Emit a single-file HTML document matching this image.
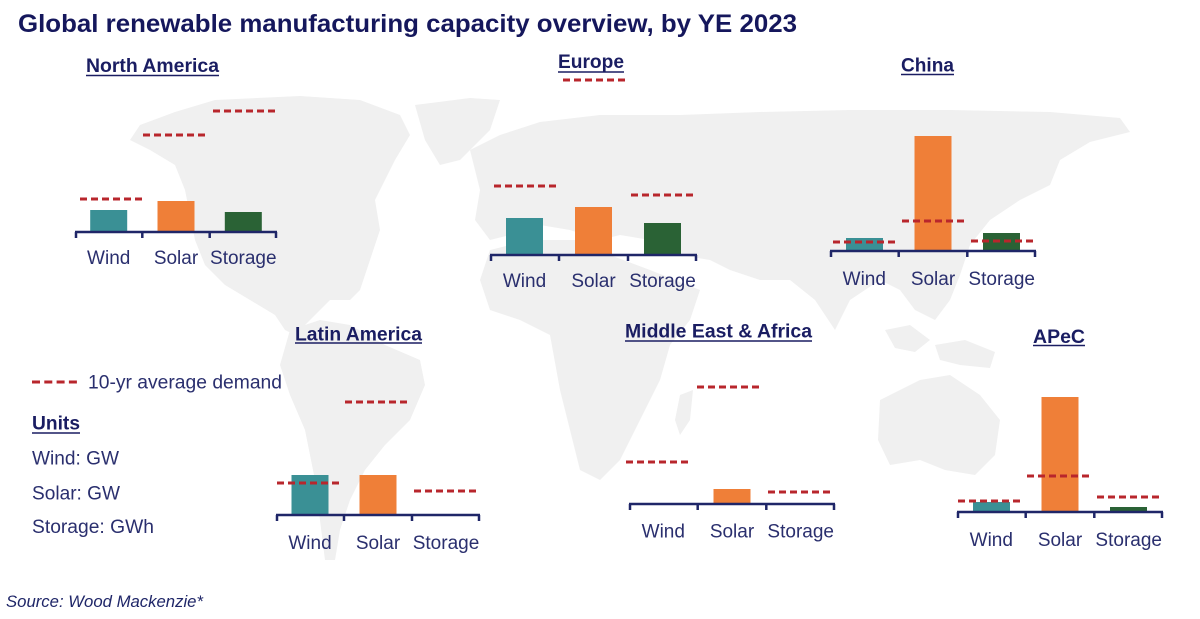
<!DOCTYPE html>
<html>
<head>
<meta charset="utf-8">
<style>
  html, body { margin:0; padding:0; background:#ffffff; }
  svg { display:block; }
  text { font-family: "Liberation Sans", Arial, sans-serif; }
</style>
</head>
<body>
<svg width="1200" height="619" viewBox="0 0 1200 619" xmlns="http://www.w3.org/2000/svg">
  <rect x="0" y="0" width="1200" height="619" fill="#ffffff"/>

  <!-- faint world map -->
  <g fill="#f0f0f0">
    <polygon points="140,125 175,112 215,100 300,96 360,100 400,115 410,135 395,160 385,180 375,200 380,230 370,260 360,290 350,300 330,300 310,320 295,335 285,330 275,315 250,300 225,285 205,265 195,240 190,215 185,190 175,165 150,150 130,140"/>
    <polygon points="415,105 470,98 500,100 490,130 460,160 440,165 425,140"/>
    <polygon points="290,330 320,320 350,325 385,345 420,360 425,385 410,420 385,445 365,470 350,500 340,530 335,560 325,560 320,520 315,480 305,430 290,395 280,365"/>
    <polygon points="470,150 500,135 540,122 600,115 680,115 760,112 850,110 950,110 1050,112 1120,118 1130,132 1090,142 1060,160 1050,185 1020,200 990,220 970,245 960,275 950,300 935,320 915,310 900,290 880,280 850,300 835,330 815,300 790,280 760,280 730,270 710,260 680,255 650,240 620,235 600,240 570,230 540,225 510,235 490,240 475,220 480,190"/>
    <polygon points="490,250 530,240 580,240 610,255 650,270 700,290 690,320 670,345 660,380 640,420 620,460 600,480 580,470 570,430 560,390 550,335 520,320 490,310 480,280"/>
    <polygon points="680,395 693,390 690,420 680,435 675,420"/>
    <polygon points="880,400 920,380 950,375 980,395 1000,420 995,455 975,475 945,470 920,460 890,465 878,440"/>
    <polygon points="885,330 910,325 930,340 915,352 895,348"/>
    <polygon points="935,345 965,340 995,352 990,368 960,365 940,360"/>
  </g>

  <!-- Title -->
  <text x="18" y="32" font-size="25" font-weight="bold" fill="#15175c" textLength="779" lengthAdjust="spacingAndGlyphs">Global renewable manufacturing capacity overview, by YE 2023</text>

  <!-- ============ North America ============ -->
  <g>
    <text x="86" y="72" font-size="19" font-weight="bold" fill="#1a1d62" textLength="133" lengthAdjust="spacingAndGlyphs">North America</text>
    <line x1="86" y1="75.5" x2="219" y2="75.5" stroke="#1a1d62" stroke-width="1.5"/>
    <rect x="90.2" y="210" width="37" height="22" fill="#3a9095"/>
    <rect x="157.5" y="201" width="37" height="31" fill="#ef7f38"/>
    <rect x="224.8" y="212" width="37" height="20" fill="#2a6235"/>
    <g stroke="#b8262c" stroke-width="3" stroke-dasharray="7 4">
      <line x1="80" y1="199" x2="142" y2="199"/>
      <line x1="143" y1="135" x2="205" y2="135"/>
      <line x1="213" y1="111" x2="275" y2="111"/>
    </g>
    <g stroke="#1f2668" stroke-width="2.5" fill="none">
      <line x1="75" y1="232" x2="277" y2="232"/>
      <line x1="76" y1="232" x2="76" y2="238"/>
      <line x1="142.3" y1="232" x2="142.3" y2="238"/>
      <line x1="209.7" y1="232" x2="209.7" y2="238"/>
      <line x1="276" y1="232" x2="276" y2="238"/>
    </g>
    <g font-size="19" fill="#2a2f6e" text-anchor="middle">
      <text x="108.7" y="264">Wind</text>
      <text x="176" y="264">Solar</text>
      <text x="243.3" y="264">Storage</text>
    </g>
  </g>

  <!-- ============ Europe ============ -->
  <g>
    <text x="558" y="68" font-size="19" font-weight="bold" fill="#1a1d62" textLength="66" lengthAdjust="spacingAndGlyphs">Europe</text>
    <line x1="558" y1="72" x2="624" y2="72" stroke="#1a1d62" stroke-width="1.5"/>
    <rect x="506" y="218" width="37" height="37" fill="#3a9095"/>
    <rect x="575" y="207" width="37" height="48" fill="#ef7f38"/>
    <rect x="644" y="223" width="37" height="32" fill="#2a6235"/>
    <g stroke="#b8262c" stroke-width="3" stroke-dasharray="7 4">
      <line x1="494" y1="186" x2="556" y2="186"/>
      <line x1="563" y1="80" x2="625" y2="80"/>
      <line x1="631" y1="195" x2="693" y2="195"/>
    </g>
    <g stroke="#1f2668" stroke-width="2.5" fill="none">
      <line x1="490" y1="255" x2="697" y2="255"/>
      <line x1="491" y1="255" x2="491" y2="261"/>
      <line x1="559" y1="255" x2="559" y2="261"/>
      <line x1="628" y1="255" x2="628" y2="261"/>
      <line x1="696" y1="255" x2="696" y2="261"/>
    </g>
    <g font-size="19" fill="#2a2f6e" text-anchor="middle">
      <text x="524.5" y="287">Wind</text>
      <text x="593.5" y="287">Solar</text>
      <text x="662.5" y="287">Storage</text>
    </g>
  </g>

  <!-- ============ China ============ -->
  <g>
    <text x="901" y="71.5" font-size="19" font-weight="bold" fill="#1a1d62" textLength="53" lengthAdjust="spacingAndGlyphs">China</text>
    <line x1="901" y1="74.5" x2="954" y2="74.5" stroke="#1a1d62" stroke-width="1.5"/>
    <rect x="846" y="238" width="37" height="13" fill="#3a9095"/>
    <rect x="914.5" y="136" width="37" height="115" fill="#ef7f38"/>
    <rect x="983" y="233" width="37" height="18" fill="#2a6235"/>
    <g stroke="#b8262c" stroke-width="3" stroke-dasharray="7 4">
      <line x1="833" y1="242" x2="895" y2="242"/>
      <line x1="902" y1="221" x2="964" y2="221"/>
      <line x1="971" y1="241" x2="1033" y2="241"/>
    </g>
    <g stroke="#1f2668" stroke-width="2.5" fill="none">
      <line x1="830" y1="251" x2="1036" y2="251"/>
      <line x1="831" y1="251" x2="831" y2="257"/>
      <line x1="898.7" y1="251" x2="898.7" y2="257"/>
      <line x1="967.3" y1="251" x2="967.3" y2="257"/>
      <line x1="1035" y1="251" x2="1035" y2="257"/>
    </g>
    <g font-size="19" fill="#2a2f6e" text-anchor="middle">
      <text x="864.3" y="285">Wind</text>
      <text x="933" y="285">Solar</text>
      <text x="1001.7" y="285">Storage</text>
    </g>
  </g>

  <!-- ============ Latin America ============ -->
  <g>
    <text x="295" y="340.5" font-size="19" font-weight="bold" fill="#1a1d62" textLength="127" lengthAdjust="spacingAndGlyphs">Latin America</text>
    <line x1="295" y1="343" x2="422" y2="343" stroke="#1a1d62" stroke-width="1.5"/>
    <rect x="291.5" y="475" width="37" height="40" fill="#3a9095"/>
    <rect x="359.5" y="475" width="37" height="40" fill="#ef7f38"/>
    <g stroke="#b8262c" stroke-width="3" stroke-dasharray="7 4">
      <line x1="277" y1="483" x2="339" y2="483"/>
      <line x1="345" y1="402" x2="407" y2="402"/>
      <line x1="414" y1="491" x2="476" y2="491"/>
    </g>
    <g stroke="#1f2668" stroke-width="2.5" fill="none">
      <line x1="276" y1="515" x2="480" y2="515"/>
      <line x1="277" y1="515" x2="277" y2="521"/>
      <line x1="344" y1="515" x2="344" y2="521"/>
      <line x1="412" y1="515" x2="412" y2="521"/>
      <line x1="479" y1="515" x2="479" y2="521"/>
    </g>
    <g font-size="19" fill="#2a2f6e" text-anchor="middle">
      <text x="310" y="549">Wind</text>
      <text x="378" y="549">Solar</text>
      <text x="446" y="549">Storage</text>
    </g>
  </g>

  <!-- ============ Middle East & Africa ============ -->
  <g>
    <text x="625" y="337.5" font-size="19" font-weight="bold" fill="#1a1d62" textLength="187" lengthAdjust="spacingAndGlyphs">Middle East &amp; Africa</text>
    <line x1="625" y1="341" x2="812" y2="341" stroke="#1a1d62" stroke-width="1.5"/>
    <rect x="713.5" y="489" width="37" height="15" fill="#ef7f38"/>
    <g stroke="#b8262c" stroke-width="3" stroke-dasharray="7 4">
      <line x1="626" y1="462" x2="688" y2="462"/>
      <line x1="697" y1="387" x2="759" y2="387"/>
      <line x1="768" y1="492" x2="830" y2="492"/>
    </g>
    <g stroke="#1f2668" stroke-width="2.5" fill="none">
      <line x1="629" y1="504" x2="835" y2="504"/>
      <line x1="630" y1="504" x2="630" y2="510"/>
      <line x1="697.7" y1="504" x2="697.7" y2="510"/>
      <line x1="766.3" y1="504" x2="766.3" y2="510"/>
      <line x1="834" y1="504" x2="834" y2="510"/>
    </g>
    <g font-size="19" fill="#2a2f6e" text-anchor="middle">
      <text x="663.3" y="537.5">Wind</text>
      <text x="732" y="537.5">Solar</text>
      <text x="800.7" y="537.5">Storage</text>
    </g>
  </g>

  <!-- ============ APeC ============ -->
  <g>
    <text x="1033" y="343" font-size="19" font-weight="bold" fill="#1a1d62" textLength="52" lengthAdjust="spacingAndGlyphs">APeC</text>
    <line x1="1033" y1="345.5" x2="1085" y2="345.5" stroke="#1a1d62" stroke-width="1.5"/>
    <rect x="973" y="502" width="37" height="10" fill="#3a9095"/>
    <rect x="1041.5" y="397" width="37" height="115" fill="#ef7f38"/>
    <rect x="1110" y="507" width="37" height="5" fill="#2a6235"/>
    <g stroke="#b8262c" stroke-width="3" stroke-dasharray="7 4">
      <line x1="958" y1="501" x2="1020" y2="501"/>
      <line x1="1027" y1="476" x2="1089" y2="476"/>
      <line x1="1097" y1="497" x2="1159" y2="497"/>
    </g>
    <g stroke="#1f2668" stroke-width="2.5" fill="none">
      <line x1="957" y1="512" x2="1163" y2="512"/>
      <line x1="958" y1="512" x2="958" y2="518"/>
      <line x1="1025.7" y1="512" x2="1025.7" y2="518"/>
      <line x1="1094.3" y1="512" x2="1094.3" y2="518"/>
      <line x1="1162" y1="512" x2="1162" y2="518"/>
    </g>
    <g font-size="19" fill="#2a2f6e" text-anchor="middle">
      <text x="991.3" y="546">Wind</text>
      <text x="1060" y="546">Solar</text>
      <text x="1128.7" y="546">Storage</text>
    </g>
  </g>

  <!-- ============ Legend & Units ============ -->
  <line x1="32" y1="382" x2="77" y2="382" stroke="#b8262c" stroke-width="3" stroke-dasharray="8 4.3"/>
  <text x="88" y="388.5" font-size="19" fill="#2a2f6e" textLength="194" lengthAdjust="spacingAndGlyphs">10-yr average demand</text>

  <text x="32" y="429.5" font-size="19" font-weight="bold" fill="#1a1d62" textLength="48" lengthAdjust="spacingAndGlyphs">Units</text>
  <line x1="32" y1="433" x2="80" y2="433" stroke="#1a1d62" stroke-width="1.5"/>
  <text x="32" y="464.5" font-size="19" fill="#2a2f6e" textLength="87" lengthAdjust="spacingAndGlyphs">Wind: GW</text>
  <text x="32" y="499.5" font-size="19" fill="#2a2f6e" textLength="88" lengthAdjust="spacingAndGlyphs">Solar: GW</text>
  <text x="32" y="533" font-size="19" fill="#2a2f6e" textLength="122" lengthAdjust="spacingAndGlyphs">Storage: GWh</text>

  <!-- Source -->
  <text x="6" y="607" font-size="16.5" font-style="italic" fill="#1f2668" textLength="197" lengthAdjust="spacingAndGlyphs">Source: Wood Mackenzie*</text>
</svg>
</body>
</html>
